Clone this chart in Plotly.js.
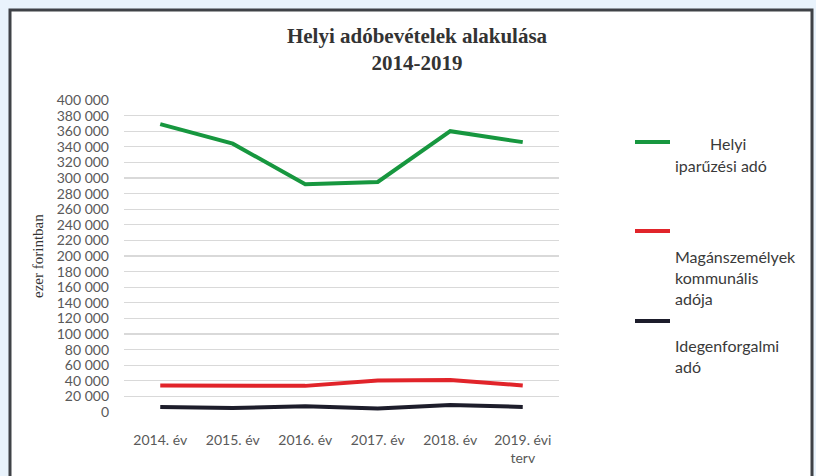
<!DOCTYPE html>
<html>
<head>
<meta charset="utf-8">
<script src="https://cdn.plot.ly/plotly-3.0.1.min.js"></script>
<style>html,body{margin:0;padding:0;background:#e9f3fc;}#chart{width:816px;height:476px;}</style>
</head>
<body>
<div id="chart"></div>
<script>
// ---- data ----
const categories = ["2014. év", "2015. év", "2016. év", "2017. év", "2018. év", "2019. évi<br>terv"];
const iparuzesi = [369000, 344000, 292000, 295000, 360000, 346000];
const kommunalis = [34000, 34000, 33500, 40500, 41000, 34000];
const idegenforgalmi = [6500, 5000, 7500, 4500, 9000, 6500];
const seriesNames = ["Helyi iparűzési adó", "Magánszemélyek kommunális adója", "Idegenforgalmi adó"];
const yTickVals = [0,20000,40000,60000,80000,100000,120000,140000,160000,180000,200000,220000,240000,260000,280000,300000,320000,340000,360000,380000,400000];
const yTickText = yTickVals.map(v => v === 0 ? "0" : (Math.floor(v/1000) + " 000"));

// ---- geometry ----
const W = 816, H = 476;
const M = {l: 124, r: 257, t: 100, b: 64};
const pw = W - M.l - M.r, ph = H - M.t - M.b;
const px = x => (x - M.l) / pw;
const py = y => (H - M.b - y) / ph;

const colors = ["#17973f", "#e1242a", "#1d1d2b"];
const legendFont = {family: "Lato, sans-serif", size: 16, color: "#3a3a3a"};
const serif = "Liberation Serif, Times New Roman, serif";

const traces = [iparuzesi, kommunalis, idegenforgalmi].map((vals, i) => ({
  type: "scatter", mode: "lines", x: categories, y: vals, name: seriesNames[i],
  line: {color: colors[i], width: 4}, hoverinfo: "skip", showlegend: false
}));

const swatchY = [142, 231, 321];
const shapes = [
  {type: "rect", xref: "paper", yref: "paper", layer: "below",
   x0: px(10), x1: px(812), y0: py(500), y1: py(10),
   fillcolor: "#ffffff", line: {color: "#3f4247", width: 3}}
].concat(swatchY.map((y, i) => ({
  type: "line", xref: "paper", yref: "paper",
  x0: px(635), x1: px(670), y0: py(y), y1: py(y),
  line: {color: colors[i], width: 4}
})));

const annotations = [
  {text: "Helyi", x: px(708), y: py(143), xanchor: "left", yanchor: "middle"},
  {text: "iparűzési adó", x: px(673), y: py(165), xanchor: "left", yanchor: "middle"},
  {text: "Magánszemélyek<br>kommunális<br>adója", x: px(673), y: py(277), xanchor: "left", yanchor: "middle", align: "left"},
  {text: "Idegenforgalmi<br>adó", x: px(673), y: py(356), xanchor: "left", yanchor: "middle", align: "left"}
].map(a => Object.assign({xref: "paper", yref: "paper", showarrow: false, font: legendFont}, a))
.concat([{
  text: "ezer forintban", xref: "paper", yref: "paper", showarrow: false,
  x: px(38), y: py(256), xanchor: "center", yanchor: "middle", textangle: -90,
  font: {family: serif, size: 15, color: "#333333"}
}]);

const layout = {
  width: W, height: H,
  margin: M,
  paper_bgcolor: "#e9f3fc",
  plot_bgcolor: "rgba(0,0,0,0)",
  title: {
    text: "<b>Helyi adóbevételek alakulása<br>2014-2019</b>",
    font: {family: serif, size: 21, color: "#333333"},
    x: 417 / W, xanchor: "center", xref: "container",
    y: 1 - 43 / H, yanchor: "top", yref: "container"
  },
  xaxis: {
    type: "category", range: [-0.5, 5.5],
    showgrid: false, zeroline: false, showline: false, ticks: "",
    tickfont: {family: "Lato, sans-serif", size: 14, color: "#595959"},
    ticklabelstandoff: 18,
    fixedrange: true
  },
  yaxis: {
    range: [0, 400000],
    tickvals: yTickVals, ticktext: yTickText,
    showgrid: true, gridcolor: "#d9d9d9", gridwidth: 1.3,
    zeroline: false, showline: false, ticks: "",
    tickfont: {family: "Lato, sans-serif", size: 14, color: "#595959"},
    ticklabelstandoff: 14,
    automargin: false,
    fixedrange: true
  },
  shapes: shapes,
  annotations: annotations,
  showlegend: false
};

Plotly.newPlot("chart", traces, layout, {displayModeBar: false, staticPlot: true});
</script>
</body>
</html>
